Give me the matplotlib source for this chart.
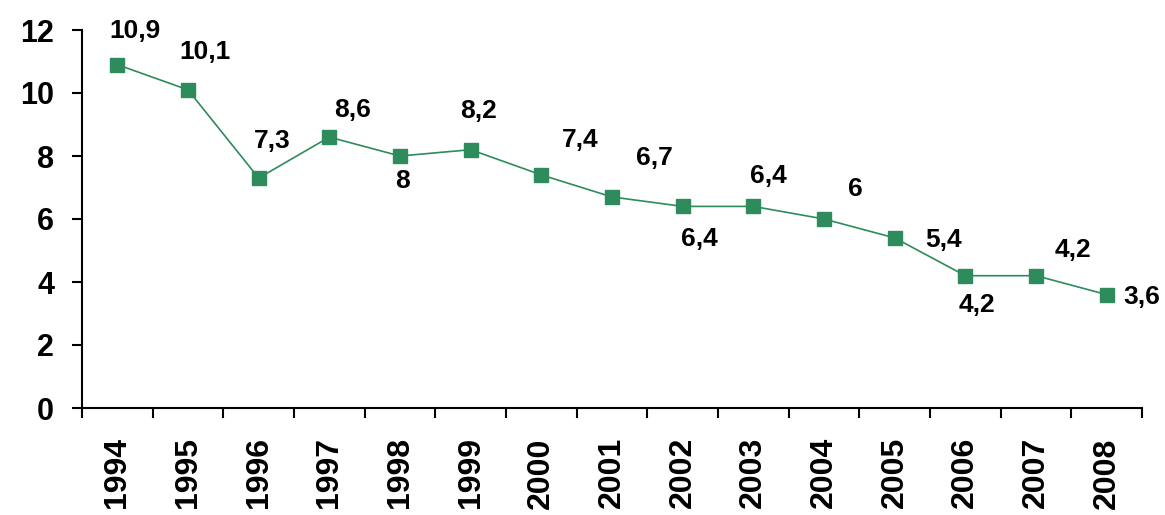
import matplotlib
matplotlib.use("Agg")
import matplotlib.pyplot as plt
import numpy as np

years = ["1994", "1995", "1996", "1997", "1998", "1999", "2000", "2001",
         "2002", "2003", "2004", "2005", "2006", "2007", "2008"]
values = [10.9, 10.1, 7.3, 8.6, 8.0, 8.2, 7.4, 6.7, 6.4, 6.4, 6.0, 5.4, 4.2, 4.2, 3.6]
value_labels = ["10,9", "10,1", "7,3", "8,6", "8", "8,2", "7,4", "6,7",
                "6,4", "6,4", "6", "5,4", "4,2", "4,2", "3,6"]
y_ticks = [0, 2, 4, 6, 8, 10, 12]

# label offsets in pixels (dx, dy up-positive)
label_offsets = [(18, 34), (17, 38), (14, 37), (23, 27), (2, -25), (8, 39),
                 (39, 35), (42, 39), (17, -33), (15, 30), (31, 30), (49, -2),
                 (12, -29), (37, 26), (35, -2)]

W, H = 1165, 515
fig = plt.figure(figsize=(W / 100, H / 100), dpi=100)
ax = fig.add_axes([82 / W, 1 - 408 / H, (1142 - 82) / W, (408 - 30) / H])

green = "#2e8b5c"
x = np.arange(len(years))
ax.plot(x, values, color=green, lw=1.2, marker="s", markersize=10,
        markerfacecolor=green, markeredgecolor=green, zorder=3)

sans = ["Liberation Sans", "DejaVu Sans"]
for xi, v, lab, off in zip(x, values, value_labels, label_offsets):
    ax.annotate(lab, (xi, v), xytext=off, textcoords="offset pixels",
                ha="center", va="center", fontsize=19, fontweight="bold",
                family=sans, color="black", annotation_clip=False)

ax.set_xlim(-0.5, len(years) - 0.5)
ax.set_ylim(0, 12)
ax.set_yticks(y_ticks)
ax.set_yticklabels([str(t) for t in y_ticks], fontsize=22, fontweight="bold",
                   family=sans)
ax.tick_params(axis="y", length=7, width=1.5, pad=13)

ax.set_xticks(x)
ax.set_xticklabels(years, rotation=90, fontsize=23, fontweight="bold",
                   family=sans)
ax.tick_params(axis="x", which="major", length=0, pad=21)
ax.set_xticks(np.arange(-0.5, len(years), 1.0), minor=True)
ax.tick_params(axis="x", which="minor", length=7, width=1.5, direction="out")

for s in ["top", "right"]:
    ax.spines[s].set_visible(False)
for s in ["left", "bottom"]:
    ax.spines[s].set_linewidth(1.5)

fig.savefig("out.png", dpi=100)
